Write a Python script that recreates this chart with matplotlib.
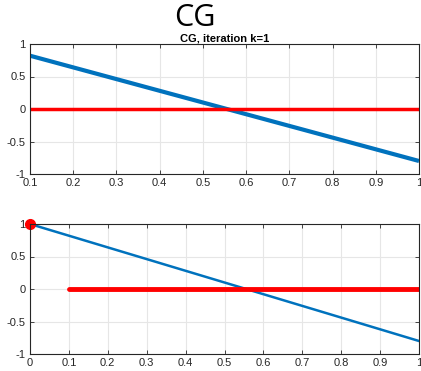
import matplotlib.pyplot as plt

# valores
x_top = [0.1, 0.2, 0.3, 0.4, 0.5, 0.6, 0.7, 0.8, 0.9, 1.0]
y_top = [0.82, 0.64, 0.46, 0.28, 0.10, -0.08, -0.26, -0.44, -0.62, -0.80]
x_bot = [0.0, 0.1, 0.2, 0.3, 0.4, 0.5, 0.6, 0.7, 0.8, 0.9, 1.0]
y_bot = [1.0, 0.82, 0.64, 0.46, 0.28, 0.10, -0.08, -0.26, -0.44, -0.62, -0.80]
zero_top = [0.0] * len(x_top)
ponto_inicial = (0.0, 1.0)

xticks_top = [0.1, 0.2, 0.3, 0.4, 0.5, 0.6, 0.7, 0.8, 0.9, 1.0]
xticks_bot = [0.0, 0.1, 0.2, 0.3, 0.4, 0.5, 0.6, 0.7, 0.8, 0.9, 1.0]
yticks = [-1, -0.5, 0, 0.5, 1]

AZUL = '#0072BD'
VERMELHO = '#FF0000'

plt.rcParams['font.family'] = ['Liberation Sans', 'DejaVu Sans']

fig = plt.figure(figsize=(4.21, 3.71), dpi=100)
ax1 = fig.add_axes([30 / 421, 1 - 174 / 371, 389 / 421, 130 / 371])
ax2 = fig.add_axes([30 / 421, 1 - 354 / 371, 389 / 421, 130 / 371])


def rotulo(v):
    return '%g' % v


def estilo(ax, xt):
    ax.set_ylim(-1, 1)
    ax.set_yticks(yticks)
    ax.set_yticklabels([rotulo(v) for v in yticks])
    ax.set_xticks(xt)
    ax.set_xticklabels([rotulo(v) for v in xt])
    ax.grid(True, color='#e6e6e6', linewidth=0.8)
    ax.set_axisbelow(True)
    ax.tick_params(direction='in', length=3, labelsize=8, colors='#262626',
                   top=True, right=True, pad=3, width=0.6)
    for s in ax.spines.values():
        s.set_color('#262626')
        s.set_linewidth(0.8)


# --- painel de cima ---
ax1.plot(x_top, y_top, color=AZUL, linewidth=3, solid_capstyle='butt')
ax1.plot(x_top, zero_top, color=VERMELHO, linewidth=2.5)
ax1.set_xlim(0.1, 1.0)
estilo(ax1, xticks_top)
ax1.set_title('CG, iteration k=1', fontsize=8, fontweight='bold', pad=2)

# --- painel de baixo ---
ax2.plot(x_bot, y_bot, color=AZUL, linewidth=1.8)
ax2.plot(x_top, zero_top, color=VERMELHO, linewidth=3.5, solid_capstyle='round')
ax2.plot([ponto_inicial[0]], [ponto_inicial[1]], 'o', color=VERMELHO,
         markersize=7, clip_on=False)
ax2.set_xlim(0.0, 1.0)
estilo(ax2, xticks_bot)

fig.text(195 / 421, 1 - 18 / 371, 'CG', fontsize=22, ha='center', va='center',
         family='Open Sans')

fig.savefig('out.png', dpi=100)
